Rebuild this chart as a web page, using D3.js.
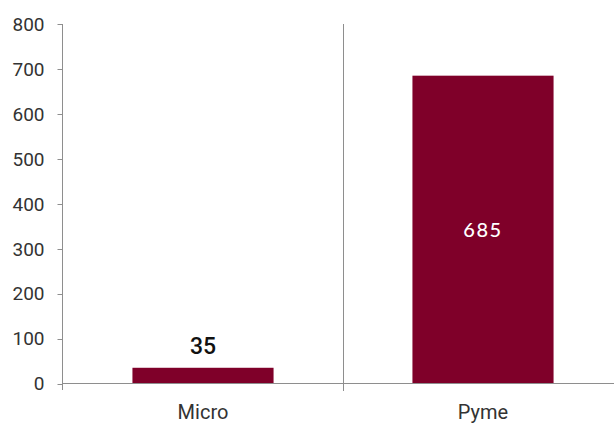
<!DOCTYPE html>
<html>
<head>
<meta charset="utf-8">
<script src="https://cdn.jsdelivr.net/npm/d3@7"></script>
<style>
html, body { margin: 0; padding: 0; background: #fff; }
svg { display: block; }
</style>
</head>
<body>
<svg id="chart" width="614" height="424"></svg>
<script>
const categories = ["Micro", "Pyme"];
const values = [35, 685];
const yTicks = [0, 100, 200, 300, 400, 500, 600, 700, 800];

const svg = d3.select("#chart");
const axisColor = "#8e8e8e";
const textColor = "#333333";
const barColor = "#7f0029";
const font = "Roboto, 'Liberation Sans', Arial, sans-serif";

const y = d3.scaleLinear().domain([0, 800]).range([383.5, 24]);
const x = d3.scaleBand().domain(categories).range([63, 623])
  .paddingInner(0.496).paddingOuter(0.248);

// bars
svg.selectAll("rect.bar").data(values).join("rect")
  .attr("class", "bar")
  .attr("x", (d, i) => x(categories[i]))
  .attr("width", x.bandwidth())
  .attr("y", d => y(d))
  .attr("height", d => y(0) - y(d))
  .attr("fill", barColor);

// y axis
const yAxis = svg.append("g").attr("transform", "translate(62.5,0)");
yAxis.append("line").attr("x1", 0).attr("x2", 0).attr("y1", y(800)).attr("y2", 390)
  .attr("stroke", axisColor).attr("stroke-width", 1);
yAxis.selectAll("line.tick").data(yTicks).join("line")
  .attr("class", "tick")
  .attr("x1", -5).attr("x2", 0)
  .attr("y1", d => Math.round(y(d)) + 0.5).attr("y2", d => Math.round(y(d)) + 0.5)
  .attr("stroke", axisColor);
yAxis.selectAll("text").data(yTicks).join("text")
  .attr("x", -18).attr("y", d => y(d)).attr("dy", "0.36em")
  .attr("text-anchor", "end")
  .attr("font-family", font).attr("font-size", 19)
  .attr("fill", textColor)
  .text(d => d);

// x axis
svg.append("line").attr("x1", 62).attr("x2", 614).attr("y1", 383.5).attr("y2", 383.5)
  .attr("stroke", axisColor);
// category separator
const sepX = Math.round(x("Pyme") - x.step() * x.paddingInner() / 2) + 0.5;
svg.append("line").attr("x1", sepX).attr("x2", sepX).attr("y1", y(800)).attr("y2", 391)
  .attr("stroke", axisColor);

// category labels
svg.selectAll("text.cat").data(categories).join("text")
  .attr("class", "cat")
  .attr("x", d => x(d) + x.bandwidth() / 2)
  .attr("y", 418.5)
  .attr("text-anchor", "middle")
  .attr("font-family", font).attr("font-size", 20)
  .attr("fill", textColor)
  .text(d => d);

// value labels
svg.selectAll("text.val").data(values).join("text")
  .attr("class", "val")
  .attr("x", (d, i) => x(categories[i]) + x.bandwidth() / 2)
  .attr("y", (d, i) => i === 0 ? y(d) - 14 : (y(d) + y(0)) / 2)
  .attr("dy", (d, i) => i === 0 ? 0 : "0.36em")
  .attr("text-anchor", "middle")
  .attr("font-family", (d, i) => i === 0 ? font : "Lato, 'Open Sans', sans-serif")
  .attr("font-size", (d, i) => i === 0 ? 23 : 20)
  .attr("font-weight", (d, i) => i === 0 ? 500 : 500)
  .attr("letter-spacing", (d, i) => i === 0 ? 0 : 1.6)
  .attr("fill", (d, i) => i === 0 ? "#111" : "#ffffff")
  .text(d => d);
</script>
</body>
</html>
